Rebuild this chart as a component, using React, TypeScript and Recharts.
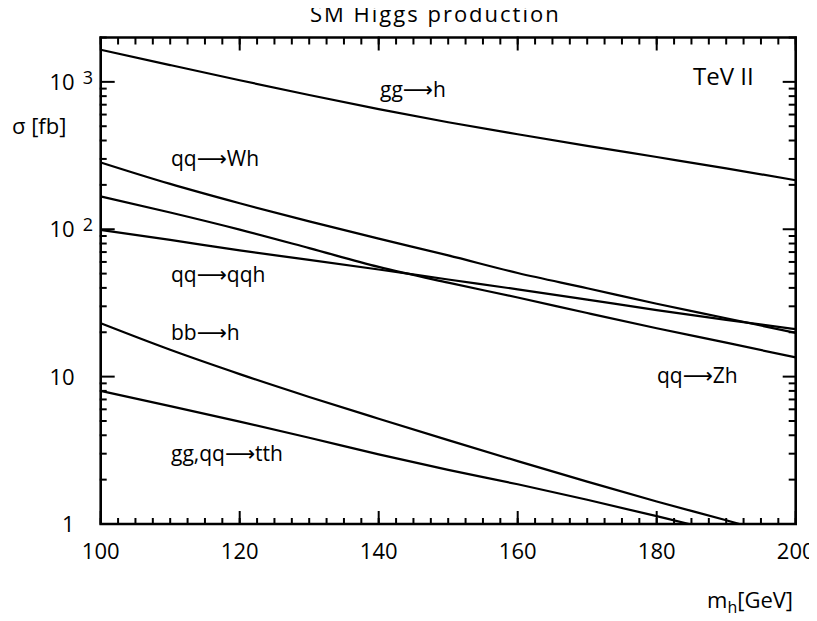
import { LineChart, Line, XAxis, YAxis, ReferenceArea } from "recharts";

// Higgs mass [GeV]
const masses = [100, 110, 120, 130, 140, 150, 160, 170, 180, 190, 200];
// cross sections [fb]
const ggToH = [1652, 1300, 1026, 815, 653, 532, 441, 368, 309, 259, 215];
const qqToWh = [284, 203, 150, 113, 86.3, 66.5, 50.5, 39.8, 31.2, 24.9, 19.8];
const qqToZh = [167, 130, 99.5, 74.5, 55.5, 43.4, 34.4, 27.0, 21.3, 17.0, 13.5];
const qqToQqh = [99, 84.7, 71.8, 62, 53.3, 45.6, 39.1, 33.3, 28.3, 24.3, 21.0];
const bbToH = [23.0, 15.2, 10.4, 7.28, 5.18, 3.71, 2.67, 1.94, 1.42, 1.06, 0.78];
const ttH = [8.0, 6.31, 4.95, 3.85, 2.97, 2.33, 1.86, 1.46, 1.13, 0.867, 0.665];

const xMajor = [100, 120, 140, 160, 180, 200];
const yMajor = [1, 10, 100, 1000];
const xMinor = Array.from({ length: 41 }, (_, i) => 100 + i * 2.5);
const yMinor = [2, 3, 4, 5, 6, 7, 8, 9, 20, 30, 40, 50, 60, 70, 80, 90, 200, 300, 400, 500, 600, 700, 800, 900, 2000];

const data = masses.map((m, i) => ({
  m,
  ggh: ggToH[i],
  wh: qqToWh[i],
  zh: qqToZh[i],
  qqh: qqToQqh[i],
  bbh: bbToH[i],
  tth: ttH[i],
}));

const FONT = "'Open Sans', 'DejaVu Sans', sans-serif";
const ARROW = "\u27F6";

// inward tick marks: (x, y) is the point on the frame edge
const Mark = ({ x, y, side, len }: any) => {
  const dx = side === "left" ? len : side === "right" ? -len : 0;
  const dy = side === "top" ? len : side === "bottom" ? -len : 0;
  return <line x1={x} y1={y} x2={x + dx} y2={y + dy} stroke="#000" strokeWidth={2} />;
};

const XTick = ({ x, y, payload }: any) => (
  <g>
    <line x1={x} y1={y} x2={x} y2={y - 13} stroke="#000" strokeWidth={2} />
    <text x={x} y={y + 35} textAnchor="middle" fontFamily={FONT} fontSize={22} fill="#000">
      {payload.value}
    </text>
  </g>
);

const YTick = ({ x, y, payload }: any) => {
  const v = payload.value;
  const exp = v >= 100 ? Math.round(Math.log10(v)) : null;
  return (
    <g>
      <line x1={x} y1={y} x2={x + 14} y2={y} stroke="#000" strokeWidth={2} />
      <text x={x - 26} y={y + 8} textAnchor="end" fontFamily={FONT} fontSize={22} fill="#000">
        {exp ? "10" : v}
      </text>
      {exp && (
        <text x={x - 18} y={y + 2} fontFamily={FONT} fontSize={18} fill="#000">
          {exp}
        </text>
      )}
    </g>
  );
};

const dom: [number, number] = [1, 2000];
const xdom: [number, number] = [100, 200];

export default function App() {
  return (
    <div style={{ position: "relative", width: 809, height: 613 }}>
      <LineChart width={809} height={613} data={data} margin={{ top: 27.5, right: 19.3, left: 90.7, bottom: 95 }}>
        <XAxis xAxisId="x" dataKey="m" type="number" domain={xdom} allowDataOverflow orientation="bottom"
          height={1} ticks={xMajor} interval={0} tickSize={0} tickMargin={0} tick={<XTick />} tickLine={false} axisLine={false} />
        <XAxis xAxisId="xmb" dataKey="m" type="number" domain={xdom} allowDataOverflow orientation="bottom"
          height={1} ticks={xMinor} interval={0} tickSize={0} tickMargin={0} tick={<Mark side="bottom" len={7} />} tickLine={false} axisLine={false} />
        <XAxis xAxisId="xt" dataKey="m" type="number" domain={xdom} allowDataOverflow orientation="top"
          height={1} ticks={xMajor} interval={0} tickSize={0} tickMargin={0} tick={<Mark side="top" len={14} />} tickLine={false} axisLine={false} />
        <XAxis xAxisId="xmt" dataKey="m" type="number" domain={xdom} allowDataOverflow orientation="top"
          height={1} ticks={xMinor} interval={0} tickSize={0} tickMargin={0} tick={<Mark side="top" len={7} />} tickLine={false} axisLine={false} />
        <YAxis yAxisId="y" type="number" scale="log" domain={dom} allowDataOverflow orientation="left"
          width={1} ticks={yMajor} interval={0} tickSize={0} tickMargin={0} tick={<YTick />} tickLine={false} axisLine={false} />
        <YAxis yAxisId="yml" type="number" scale="log" domain={dom} allowDataOverflow orientation="left"
          width={1} ticks={yMinor} interval={0} tickSize={0} tickMargin={0} tick={<Mark side="left" len={7} />} tickLine={false} axisLine={false} />
        <YAxis yAxisId="yr" type="number" scale="log" domain={dom} allowDataOverflow orientation="right"
          width={1} ticks={yMajor} interval={0} tickSize={0} tickMargin={0} tick={<Mark side="right" len={14} />} tickLine={false} axisLine={false} />
        <YAxis yAxisId="ymr" type="number" scale="log" domain={dom} allowDataOverflow orientation="right"
          width={1} ticks={yMinor} interval={0} tickSize={0} tickMargin={0} tick={<Mark side="right" len={7} />} tickLine={false} axisLine={false} />
        <ReferenceArea xAxisId="x" yAxisId="y" x1={100} x2={200} y1={1} y2={2000}
          fill="none" stroke="#000" strokeWidth={2.6} ifOverflow="visible" />
        {["ggh", "wh", "zh", "qqh", "bbh", "tth"].map((k) => (
          <Line key={k} xAxisId="x" yAxisId="y" dataKey={k} type="monotone" stroke="#000" strokeWidth={2.2}
            dot={false} isAnimationActive={false} />
        ))}
      </LineChart>
      <svg width={817} height={621} style={{ position: "absolute", left: -8, top: -8, pointerEvents: "none" }}
        fontFamily={FONT} fill="#000">
        <g transform="translate(8,8)">
          <text x={302} y={13.5} fontSize={22} letterSpacing={2}>SM Higgs production</text>
          <text x={685} y={77} fontSize={24}>TeV II</text>
          <text x={372} y={89} fontSize={21}>gg{ARROW}h</text>
          <text x={163} y={158} fontSize={21}>qq{ARROW}Wh</text>
          <text x={163} y={274} fontSize={21}>qq{ARROW}qqh</text>
          <text x={163} y={331.5} fontSize={21}>bb{ARROW}h</text>
          <text x={163} y={453} fontSize={21}>gg,qq{ARROW}tth</text>
          <text x={649} y={375} fontSize={21}>qq{ARROW}Zh</text>
          <text x={4} y={126} fontSize={22}>σ [fb]</text>
          <text x={699} y={600} fontSize={22}>
            m<tspan fontSize={16} dy={5}>h</tspan><tspan dy={-5}>[GeV]</tspan>
          </text>
        </g>
      </svg>
    </div>
  );
}
